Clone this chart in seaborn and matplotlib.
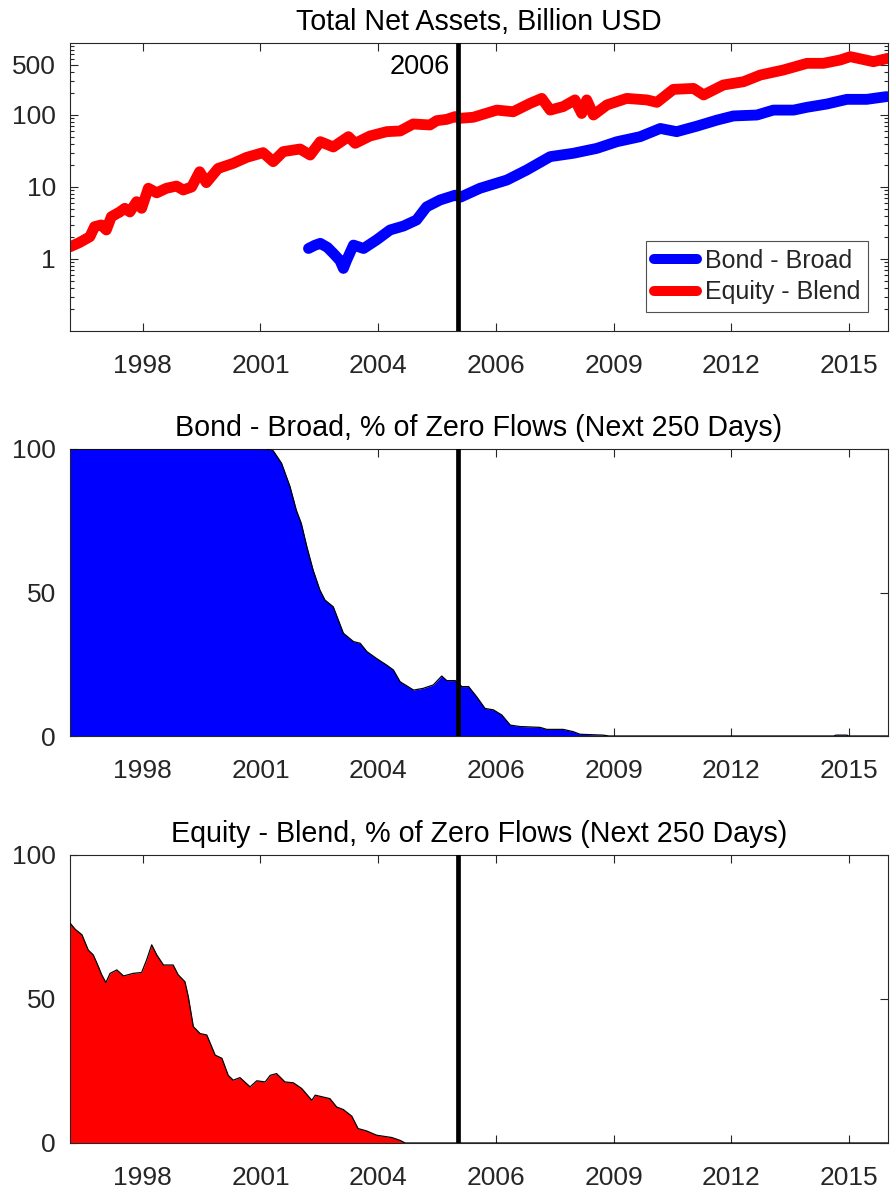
import numpy as np
import matplotlib
matplotlib.use("Agg")
import matplotlib.pyplot as plt
import matplotlib.ticker as mticker
import seaborn as sns

# ---------------- data (decimal years) ----------------
# Total net assets, billion USD
equity_years = [1996.78, 1997.0, 1997.25, 1997.36, 1997.52, 1997.64, 1997.76, 1997.96,
                1998.08, 1998.2, 1998.36, 1998.48, 1998.64, 1998.84, 1999.07, 1999.31,
                1999.47, 1999.67, 1999.86, 2000.02, 2000.3, 2000.66, 2000.98, 2001.37,
                2001.61, 2001.85, 2002.25, 2002.49, 2002.73, 2003.04, 2003.4, 2003.56,
                2003.91, 2004.31, 2004.63, 2004.94, 2005.34, 2005.5, 2005.74, 2005.94,
                2006.06, 2006.37, 2006.93, 2007.32, 2007.72, 2008.0, 2008.2, 2008.51,
                2008.79, 2008.95, 2009.07, 2009.23, 2009.55, 2010.02, 2010.5, 2010.74,
                2011.13, 2011.61, 2011.85, 2012.32, 2012.8, 2013.2, 2013.75, 2014.31,
                2014.7, 2015.1, 2015.34, 2015.89, 2016.23]
equity_tna = [1.48, 1.69, 2.04, 2.81, 2.97, 2.53, 3.87, 4.5,
              5.06, 4.5, 6.25, 5.06, 9.6, 8.3, 9.6, 10.3,
              9.1, 10.0, 16.3, 11.5, 18.1, 21.3, 25.8, 30.0,
              22.5, 31.0, 33.7, 27.8, 42.6, 36.0, 50.0, 40.4,
              51.0, 58.7, 60.0, 75.0, 72.7, 83.4, 87.0, 95.0,
              90.0, 93.0, 117.0, 111.0, 145.0, 170.0, 117.0, 131.0,
              162.0, 105.0, 162.0, 100.0, 138.0, 170.0, 162.0, 150.0,
              227.0, 234.0, 190.0, 261.0, 290.0, 359.0, 422.0, 522.0,
              522.0, 581.0, 646.0, 550.0, 612.0]

bond_years = [2002.45, 2002.6, 2002.73, 2002.9, 2003.04, 2003.2, 2003.28, 2003.36,
              2003.52, 2003.76, 2004.07, 2004.39, 2004.71, 2005.02, 2005.26, 2005.58,
              2005.94, 2006.06, 2006.53, 2007.17, 2007.64, 2008.2, 2008.75, 2009.31,
              2009.79, 2010.34, 2010.82, 2011.21, 2011.69, 2012.17, 2012.56, 2013.12,
              2013.51, 2013.99, 2014.31, 2014.78, 2015.26, 2015.73, 2016.2]
bond_tna = [1.4, 1.55, 1.65, 1.45, 1.2, 0.95, 0.74, 0.97,
            1.56, 1.4, 1.84, 2.53, 2.87, 3.48, 5.3, 6.6,
            7.7, 7.2, 9.6, 12.5, 17.2, 26.4, 29.4, 34.4,
            42.6, 50.0, 65.0, 58.7, 70.0, 85.0, 97.0, 100.0,
            117.0, 117.0, 128.0, 142.0, 165.0, 165.0, 180.0]

# Share of zero-flow days over the next 250 days, percent
bond_zero_years = [1996.78, 2001.45, 2001.61, 2001.81, 2002.01, 2002.16, 2002.28, 2002.41,
                   2002.56, 2002.72, 2002.84, 2003.04, 2003.28, 2003.52, 2003.68, 2003.84,
                   2004.07, 2004.31, 2004.47, 2004.63, 2004.95, 2005.18, 2005.42, 2005.62,
                   2005.74, 2005.94, 2006.1, 2006.26, 2006.45, 2006.65, 2006.85, 2007.05,
                   2007.25, 2007.48, 2007.96, 2008.12, 2008.51, 2008.75, 2008.91, 2009.46,
                   2009.6, 2014.95, 2015.0, 2015.26, 2015.3, 2016.23]
bond_zero_pct = [100, 100, 99.4, 95, 86.9, 78.7, 74, 66,
                 57.8, 50.9, 47.4, 45, 35.8, 32.9, 32.3, 29.4,
                 27, 24.7, 23, 18.9, 16, 16.6, 17.8, 20.9,
                 19.3, 19.3, 17.2, 17.2, 13.7, 9.6, 9.1, 7.3,
                 3.8, 3.3, 3.0, 2.3, 2.3, 1.5, 0.6, 0.3,
                 0, 0, 0.3, 0.3, 0, 0]

equity_zero_years = [1996.78, 1996.9, 1997.06, 1997.21, 1997.33, 1997.45, 1997.53, 1997.63,
                     1997.73, 1997.89, 1998.05, 1998.28, 1998.48, 1998.6, 1998.72, 1998.84,
                     1999.0, 1999.23, 1999.35, 1999.51, 1999.59, 1999.71, 1999.87, 2000.03,
                     2000.23, 2000.39, 2000.54, 2000.66, 2000.82, 2001.06, 2001.22, 2001.42,
                     2001.54, 2001.69, 2001.89, 2002.09, 2002.29, 2002.53, 2002.61, 2002.96,
                     2003.12, 2003.28, 2003.48, 2003.63, 2003.83, 2004.07, 2004.43, 2004.63,
                     2004.75, 2016.23]
equity_zero_pct = [76.3, 74.2, 72.3, 67, 65.3, 61.3, 58.4, 55.7,
                   58.9, 60.1, 58, 58.9, 59.2, 63.6, 68.8, 65.3,
                   61.8, 61.8, 58.4, 56, 50.8, 40.4, 38, 37.5,
                   30.5, 29.4, 23.5, 21.8, 22.7, 19.5, 21.6, 21.2,
                   23.5, 24.1, 21.2, 20.9, 18.9, 14.8, 16.6, 15.4,
                   12.5, 11.6, 9.3, 5, 4.2, 2.7, 1.9, 0.9,
                   0.0, 0.0]

# axis ticks
x_tick_pos = [1998.507, 2001.307, 2004.107, 2006.907, 2009.707, 2012.507, 2015.307]
x_tick_labels = ["1998", "2001", "2004", "2006", "2009", "2012", "2015"]
tna_ticks = [1, 10, 100, 500]
pct_ticks = [0, 50, 100]
cutoff_year = 2006.0
X_MIN, X_MAX = 1996.776, 2016.23

# ---------------- style ----------------
sns.set_style("ticks")
plt.rcParams["font.family"] = ["Liberation Sans", "DejaVu Sans"]
AXC = "#262626"
BLUE = "#0000ff"
RED = "#ff0000"
TITLE_SIZE = 20.6

W, H = 892, 1191
fig = plt.figure(figsize=(W / 100, H / 100), dpi=100)


def add_ax(left, top, right, bottom):
    return fig.add_axes([left / W, 1 - bottom / H, (right - left) / W, (bottom - top) / H])


def style(ax):
    for s in ax.spines.values():
        s.set_visible(True)
        s.set_color(AXC)
        s.set_linewidth(0.8)
    ax.tick_params(which="both", direction="in", top=True, right=True,
                   color=AXC, labelcolor=AXC, labelsize=19, width=0.8)
    ax.tick_params(which="major", length=5.8)
    ax.tick_params(which="minor", length=2.9)
    ax.tick_params(axis="x", pad=16.5)
    ax.tick_params(axis="y", pad=10)
    ax.set_xlim(X_MIN, X_MAX)
    ax.set_xticks(x_tick_pos, x_tick_labels)
    ax.grid(False)
    ax.set_xlabel("")
    ax.set_ylabel("")
    ax.axvline(cutoff_year, color="black", lw=3.4, zorder=6)


ax1 = add_ax(70, 43, 887.7, 331)
ax2 = add_ax(70, 449, 887.7, 736)
ax3 = add_ax(70, 855, 887.7, 1143)

# --- panel 1: total net assets (log scale) ---
sns.lineplot(x=bond_years, y=bond_tna, ax=ax1, color=BLUE, lw=7.8,
             label="Bond - Broad", solid_joinstyle="round", solid_capstyle="round")
sns.lineplot(x=equity_years, y=equity_tna, ax=ax1, color=RED, lw=7.8,
             label="Equity - Blend", solid_joinstyle="round", solid_capstyle="round")
ax1.set_yscale("log")
ax1.set_ylim(0.1, 1000)
style(ax1)
ax1.set_yticks(tna_ticks, [str(t) for t in tna_ticks])
ax1.yaxis.set_minor_locator(mticker.LogLocator(base=10, subs=np.arange(2, 10)))
ax1.yaxis.set_minor_formatter(mticker.NullFormatter())
ax1.set_title("Total Net Assets, Billion USD", fontsize=TITLE_SIZE, pad=9, color="black")
leg = ax1.legend(loc="lower right", bbox_to_anchor=(0.9755, 0.066), borderaxespad=0,
                 fontsize=18, frameon=True, fancybox=False, handlelength=1.75,
                 handletextpad=0.3, labelspacing=0.3, borderpad=0.3)
leg.get_frame().set_edgecolor(AXC)
leg.get_frame().set_linewidth(0.8)
for h in leg.get_lines():
    h.set_linewidth(7.2)
ax1.annotate("2006", xy=(cutoff_year, 0.918),
             xycoords=("data", "axes fraction"), xytext=(-5.5, 0),
             textcoords="offset points", ha="right", va="center",
             fontsize=19.5, color="black", zorder=7)

# --- panel 2: bond zero flows ---
ax2.fill_between(bond_zero_years, bond_zero_pct, 0, color=BLUE, lw=0, zorder=2)
sns.lineplot(x=bond_zero_years, y=bond_zero_pct, ax=ax2, color="black", lw=0.9, zorder=3)
ax2.set_ylim(0, 100)
style(ax2)
ax2.set_yticks(pct_ticks, [str(t) for t in pct_ticks])
ax2.set_title("Bond - Broad, % of Zero Flows (Next 250 Days)", fontsize=TITLE_SIZE,
              pad=9, color="black")

# --- panel 3: equity zero flows ---
ax3.fill_between(equity_zero_years, equity_zero_pct, 0, color=RED, lw=0, zorder=2)
sns.lineplot(x=equity_zero_years, y=equity_zero_pct, ax=ax3, color="black", lw=0.9, zorder=3)
ax3.set_ylim(0, 100)
style(ax3)
ax3.set_yticks(pct_ticks, [str(t) for t in pct_ticks])
ax3.set_title("Equity - Blend, % of Zero Flows (Next 250 Days)", fontsize=TITLE_SIZE,
              pad=9, color="black")

fig.savefig("out.png", dpi=100)
